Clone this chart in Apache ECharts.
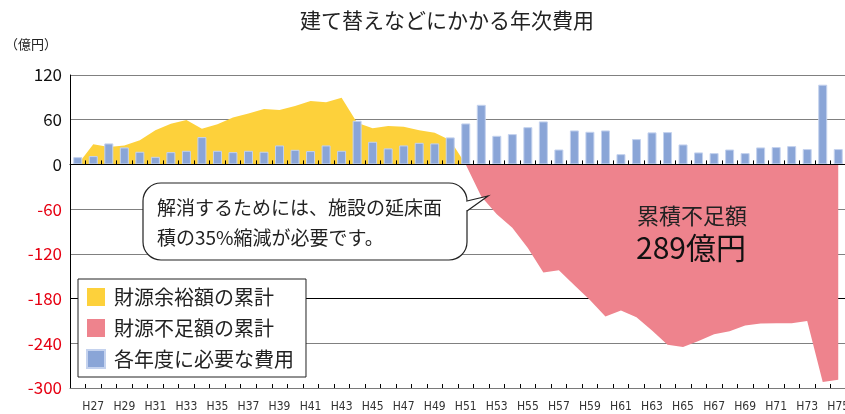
<!DOCTYPE html>
<html>
<head>
<meta charset="utf-8">
<script src="https://cdn.jsdelivr.net/npm/echarts@6/dist/echarts.min.js"></script>
<style>
html,body{margin:0;padding:0;background:#fff;}
#chart{width:845px;height:414px;}
</style>
</head>
<body>
<div id="chart"></div>
<script>
const years = ['H26','H27','H28','H29','H30','H31','H32','H33','H34','H35','H36','H37','H38','H39','H40','H41','H42','H43','H44','H45','H46','H47','H48','H49','H50','H51','H52','H53','H54','H55','H56','H57','H58','H59','H60','H61','H62','H63','H64','H65','H66','H67','H68','H69','H70','H71','H72','H73','H74','H75'];
const annualCost = [9.8, 11.2, 28.2, 22.8, 17, 10.2, 16.5, 18.3, 36.7, 18.3, 16.5, 18.3, 17, 25.5, 19.6, 17.9, 25.5, 18.3, 58.6, 30.4, 21.5, 25.5, 29, 28.2, 36.3, 55, 80, 38.4, 40.7, 50, 57.7, 20, 45.6, 43.8, 45.6, 13.8, 34, 43, 43.4, 26.8, 16.1, 15.2, 20, 15.2, 22.8, 23.3, 24.6, 20.6, 107, 20.6];
const surplusCum = [0, 27, 23.5, 25.5, 32.5, 46, 54.5, 59.5, 48, 54, 63, 68.5, 74.5, 73, 78.5, 85, 83.5, 89.5, 56, 48.5, 51.5, 50.5, 46, 42.5, 32.5, 0, '-', '-', '-', '-', '-', '-', '-', '-', '-', '-', '-', '-', '-', '-', '-', '-', '-', '-', '-', '-', '-', '-', '-', '-'];
const deficitCum = ['-', '-', '-', '-', '-', '-', '-', '-', '-', '-', '-', '-', '-', '-', '-', '-', '-', '-', '-', '-', '-', '-', '-', '-', '-', 0, -43, -67, -85, -112, -145, -142, -162, -182, -204, -196, -205, -223, -242, -245, -237, -228, -224, -216, -213.5, -213, -213, -210, -292, -289];
const seriesNames = ['財源余裕額の累計', '財源不足額の累計', '各年度に必要な費用'];
const yTicks = {min: -300, max: 120, interval: 60};
const darkLineValue = -180;
const titleText = '建て替えなどにかかる年次費用';
const unitText = '（億円）';
const calloutText = '解消するためには、施設の延床面\n積の35%縮減が必要です。';
const totalLabel = '累積不足額';
const totalValue = '289億円';

const JP = '"Noto Sans CJK JP", "Noto Sans", sans-serif';
const chart = echarts.init(document.getElementById('chart'), null, {renderer: 'canvas'});
chart.setOption({
  animation: false,
  backgroundColor: '#fff',
  textStyle: {fontFamily: JP},
  title: {
    text: titleText, left: 442, top: 5, textAlign: 'center',
    textStyle: {fontFamily: JP, fontSize: 21, fontWeight: 'normal', color: '#222'}
  },
  grid: {left: 70, right: -1, top: 75, bottom: 26, containLabel: false, outerBoundsMode: 'none'},
  legend: {
    orient: 'vertical', left: 78, top: 279,
    backgroundColor: '#fff', borderColor: '#222', borderWidth: 1,
    padding: [8, 12, 8, 8], itemGap: 11, itemWidth: 18, itemHeight: 18,
    textStyle: {fontFamily: JP, fontSize: 20, color: '#222', lineHeight: 20, padding: [0, 0, 0, 4]},
    data: [
      {name: seriesNames[0], icon: 'rect'},
      {name: seriesNames[1], icon: 'rect'},
      {name: seriesNames[2], icon: 'rect'}
    ]
  },
  xAxis: [
    {
      type: 'category', data: years, position: 'top',
      axisLine: {onZero: true, lineStyle: {color: '#000', width: 1}},
      axisTick: {show: true, inside: false, length: 4, interval: 0, lineStyle: {color: '#000'}},
      axisLabel: {show: false}, splitLine: {show: false}, z: 10
    },
    {
      type: 'category', data: years, position: 'bottom',
      axisLine: {onZero: false, lineStyle: {color: '#7a7a7a', width: 1}},
      axisTick: {show: true, inside: true, length: 4, interval: 0, lineStyle: {color: '#000'}},
      axisLabel: {
        interval: function (i) { return i % 2 === 1; },
        hideOverlap: false,
        fontFamily: '"Liberation Sans Narrow", "DejaVu Sans Condensed", sans-serif',
        fontSize: 12, color: '#333', margin: 13
      },
      splitLine: {show: false}
    }
  ],
  yAxis: {
    type: 'value', min: yTicks.min, max: yTicks.max, interval: yTicks.interval,
    axisLine: {show: true, lineStyle: {color: '#000', width: 1}},
    axisTick: {show: false},
    axisLabel: {
      fontFamily: JP, fontSize: 17, margin: 8,
      color: function (v) { return Number(v) < 0 ? '#e60012' : '#111'; }
    },
    splitLine: {show: true, lineStyle: {color: '#808080', width: 1}}
  },
  series: [
    {
      name: seriesNames[0], type: 'line', xAxisIndex: 1, data: surplusCum,
      symbol: 'none', lineStyle: {width: 0}, itemStyle: {color: '#fdd13b'},
      areaStyle: {color: '#fdd13b', opacity: 1}, z: 2
    },
    {
      name: seriesNames[1], type: 'line', xAxisIndex: 1, data: deficitCum,
      symbol: 'none', lineStyle: {width: 0}, itemStyle: {color: '#ee838d'},
      areaStyle: {color: '#ee838d', opacity: 1}, z: 2
    },
    {
      name: seriesNames[2], type: 'bar', xAxisIndex: 1, data: annualCost,
      barWidth: 9, itemStyle: {color: '#8aa5d7', borderColor: '#c4d2ee', borderWidth: 1}, z: 3,
      markLine: {
        silent: true, symbol: 'none', label: {show: false},
        lineStyle: {color: '#000', width: 1, type: 'solid'},
        data: [{yAxis: darkLineValue}], z: 1
      }
    }
  ],
  graphic: [
    {type: 'text', left: 5, top: 38, style: {text: unitText, font: '13px ' + JP, fill: '#222'}},
    {
      type: 'rect', z: 100,
      shape: {x: 143, y: 183, width: 324, height: 77, r: 18},
      style: {fill: '#fff', stroke: '#222', lineWidth: 1.2}
    },
    {
      type: 'rect', z: 101,
      shape: {x: 465.5, y: 201.8, width: 3, height: 8.4},
      style: {fill: '#fff', stroke: null}
    },
    {
      type: 'polyline', z: 102,
      shape: {points: [[467, 201], [488, 196], [467, 211]]},
      style: {fill: '#fff', stroke: '#222', lineWidth: 1.2}
    },
    {type: 'text', z: 103, x: 157, y: 193, style: {text: calloutText, font: '19px ' + JP, fill: '#222', lineHeight: 30}},
    {type: 'text', z: 103, x: 637, y: 205, style: {text: totalLabel, font: '22px ' + JP, fill: '#222'}},
    {type: 'text', z: 103, x: 636, y: 233, style: {text: totalValue, font: '30px ' + JP, fill: '#111'}}
  ]
});
</script>
</body>
</html>
